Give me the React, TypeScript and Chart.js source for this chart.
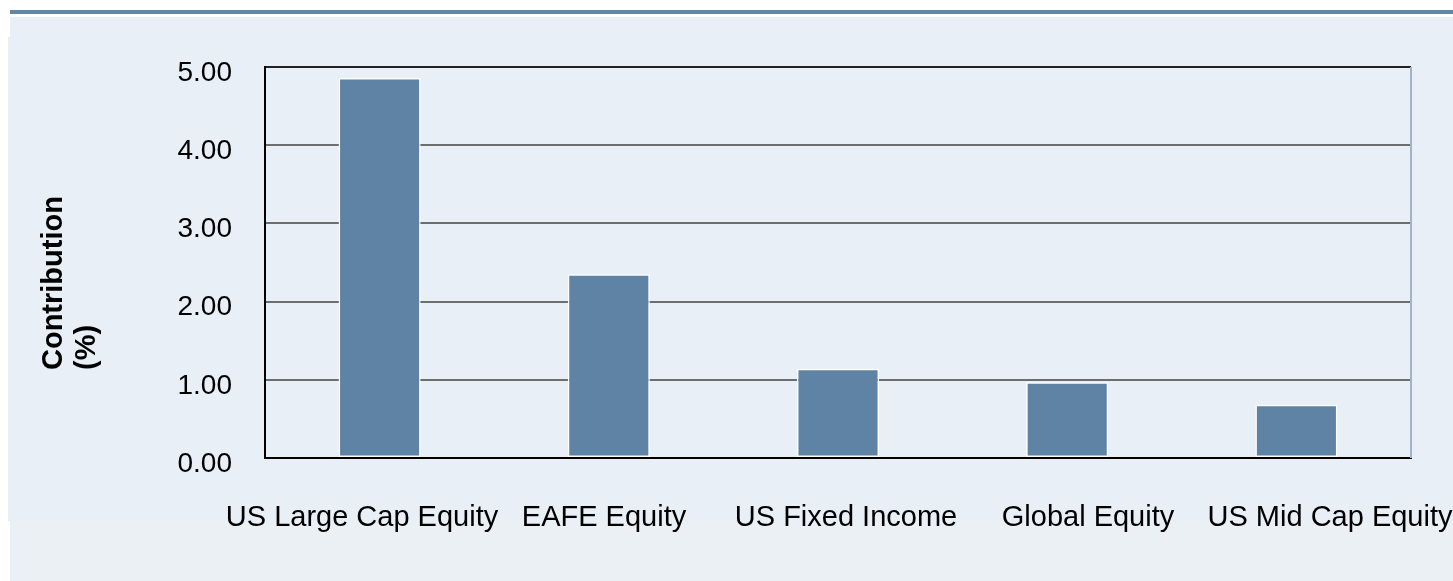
import React, { useEffect, useRef } from "react";
import { Chart, registerables } from "chart.js";

Chart.register(...registerables);

const categories = [
  "US Large Cap Equity",
  "EAFE Equity",
  "US Fixed Income",
  "Global Equity",
  "US Mid Cap Equity",
];
const contribution = [4.86, 2.35, 1.14, 0.97, 0.68];
const yTickValues = [0, 1, 2, 3, 4, 5];
const yTitleLines = ["Contribution", "(%)"];

const FONT = "Arial, 'Liberation Sans', sans-serif";

export default function App() {
  const ref = useRef<HTMLCanvasElement>(null);

  useEffect(() => {
    if (!ref.current) return;

    const labelAxisPlugin = {
      id: "labelAxis",
      afterLayout(chart: any) {
        const s = chart.scales.x2;
        const a = chart.chartArea;
        if (!s) return;
        s.left = a.left - 24;
        s.right = a.right + 40;
        s.width = s.right - s.left;
        s.configure();
        s._labelItems = null;
      },
    };

    const framePlugin = {
      id: "frame",
      beforeDatasetsDraw(chart: any) {
        const { ctx, chartArea } = chart;
        ctx.save();
        ctx.strokeStyle = "#9fb4c8";
        ctx.lineWidth = 2;
        ctx.beginPath();
        ctx.moveTo(chartArea.right, chartArea.top);
        ctx.lineTo(chartArea.right, chartArea.bottom);
        ctx.stroke();
        ctx.restore();
      },
      afterDraw(chart: any) {
        const { ctx, chartArea } = chart;
        ctx.save();
        ctx.font = `bold 29px ${FONT}`;
        ctx.fillStyle = "#000";
        ctx.textAlign = "left";
        ctx.textBaseline = "alphabetic";
        ctx.translate(chartArea.left - 203, chartArea.bottom - 88);
        ctx.rotate(-Math.PI / 2);
        yTitleLines.forEach((line, i) => {
          ctx.fillText(line, 0, i * 33);
        });
        ctx.restore();
      },
    };

    const chart = new Chart(ref.current, {
      type: "bar",
      data: {
        labels: categories,
        datasets: [
          {
            data: contribution,
            backgroundColor: "#5f83a4",
            borderColor: "#ffffff",
            borderWidth: 1.5,
            borderSkipped: false,
            barPercentage: 0.358,
            categoryPercentage: 1,
            xAxisID: "x",
            yAxisID: "y",
          },
        ],
      },
      options: {
        responsive: false,
        animation: false,
        devicePixelRatio: 1,
        layout: { padding: { left: 20, right: 42, top: 67, bottom: 0 } },
        plugins: {
          legend: { display: false },
          tooltip: { enabled: false },
        },
        scales: {
          x: {
            type: "category",
            position: "bottom",
            grid: { display: false, drawTicks: false },
            border: { display: true, color: "#000", width: 2 },
            ticks: { display: false },
            afterFit(s: any) {
              s.height = 0;
              s.paddingLeft = 0;
              s.paddingRight = 0;
            },
          },
          x2: {
            type: "category",
            position: "bottom",
            grid: { display: false, drawTicks: false },
            border: { display: false },
            ticks: {
              font: { family: FONT, size: 29 },
              color: "#000",
              padding: 43,
              maxRotation: 0,
              minRotation: 0,
              autoSkip: false,
            },
            afterFit(s: any) {
              s.height = 123;
              s.paddingLeft = 0;
              s.paddingRight = 0;
            },
          },
          y: {
            position: "left",
            min: 0,
            max: 5,
            afterBuildTicks(s: any) {
              s.ticks = yTickValues.map((v) => ({ value: v }));
            },
            ticks: {
              callback: (v: any) => Number(v).toFixed(2),
              font: { family: FONT, size: 28 },
              color: "#000",
              padding: 33,
              labelOffset: 6,
            },
            grid: {
              drawTicks: false,
              lineWidth: 2,
              color: (c: any) =>
                c.tick && (c.tick.value === 5 || c.tick.value === 0) ? "#222222" : "#6e6e6e",
            },
            border: { color: "#000", width: 2 },
            afterFit(s: any) {
              s.width = 245;
              s.paddingTop = 0;
              s.paddingBottom = 0;
            },
          },
        },
      } as any,
      plugins: [labelAxisPlugin, framePlugin],
    });

    return () => chart.destroy();
  }, []);

  return (
    <div style={{ position: "fixed", left: 0, top: 0, width: 1453, height: 581, background: "#ffffff" }}>
      <div style={{ position: "absolute", left: 10, top: 10, width: 1443, height: 4, background: "#6386a6" }} />
      <div style={{ position: "absolute", left: 10, top: 17, width: 1443, height: 20, background: "#e8eff6" }} />
      <div style={{ position: "absolute", left: 8, top: 37, width: 1445, height: 484, background: "#e8eff6" }} />
      <div style={{ position: "absolute", left: 10, top: 521, width: 1443, height: 60, background: "#ebf0f4" }} />
      <canvas
        ref={ref}
        width={1453}
        height={581}
        style={{ position: "absolute", left: 0, top: 0, width: 1453, height: 581 }}
      />
    </div>
  );
}
